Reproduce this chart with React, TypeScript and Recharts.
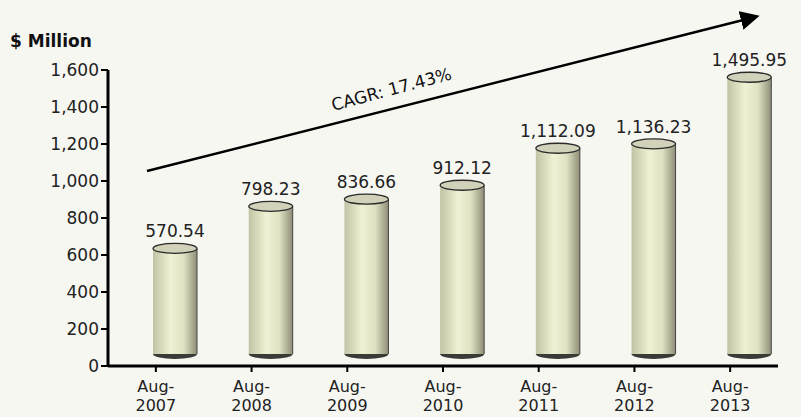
import { Bar, BarChart, LabelList, XAxis, YAxis } from "recharts";

const periods = ["Aug-2007", "Aug-2008", "Aug-2009", "Aug-2010", "Aug-2011", "Aug-2012", "Aug-2013"];
const revenue = [570.54, 798.23, 836.66, 912.12, 1112.09, 1136.23, 1495.95];
const yTicks = [0, 200, 400, 600, 800, 1000, 1200, 1400, 1600];

const data = periods.map((period, i) => ({ period, revenue: revenue[i] }));

const font = "'DejaVu Sans', Verdana, sans-serif";
// 3D look: the cylinders sit a little right and up from the category slot
const DX = 19;
const DY = -12;

const fmt = (v: number) =>
  v.toLocaleString("en-US", { minimumFractionDigits: 2, maximumFractionDigits: 2 });

const Cylinder = (props: any) => {
  const { x, y, width, height } = props;
  const left = x + DX;
  const top = y + DY;
  const bottom = y + height + DY;
  const cx = left + width / 2;
  const ry = 5;
  return (
    <g>
      <ellipse cx={cx} cy={bottom} rx={width / 2} ry={ry} fill="#3a3a36" />
      <rect x={left} y={top} width={width} height={bottom - top} fill="url(#cylBody)" />
      <line x1={left + width} y1={top} x2={left + width} y2={bottom} stroke="#444" strokeWidth={1} />
      <ellipse cx={cx} cy={top} rx={width / 2} ry={ry} fill="#d2d2ba" stroke="#2a2a2a" strokeWidth={1.3} />
    </g>
  );
};

const ValueLabel = (props: any) => {
  const { x, y, width, value } = props;
  return (
    <text
      x={x + width / 2 + DX}
      y={y + DY - 11}
      textAnchor="middle"
      fontFamily={font}
      fontSize={17}
      fill="#222"
    >
      {fmt(value)}
    </text>
  );
};

const PeriodTick = (props: any) => {
  const { x, y, payload } = props;
  const [mon, year] = String(payload.value).split("-");
  return (
    <text x={x} y={y} textAnchor="middle" fontFamily={font} fontSize={16} fill="#222">
      <tspan x={x} dy={18}>{mon}-</tspan>
      <tspan x={x} dy={19}>{year}</tspan>
    </text>
  );
};

export default function App() {
  return (
    <div style={{ position: "fixed", left: 0, top: 0, width: 801, height: 417, background: "#f7f7f2" }}>
      <BarChart width={801} height={417} data={data} margin={{ top: 70, right: 23, bottom: 0, left: 0 }}>
        <defs>
          <linearGradient id="cylBody" x1="0" y1="0" x2="1" y2="0">
            <stop offset="0%" stopColor="#c2c2a4" />
            <stop offset="40%" stopColor="#f0f0d4" />
            <stop offset="70%" stopColor="#e0e0c2" />
            <stop offset="100%" stopColor="#8e8e78" />
          </linearGradient>
        </defs>
        <XAxis
          dataKey="period"
          height={51}
          axisLine={{ stroke: "#000", strokeWidth: 3 }}
          tickLine={{ stroke: "#000", strokeWidth: 2 }}
          tickSize={6}
          tick={<PeriodTick />}
          interval={0}
        />
        <YAxis
          width={108}
          domain={[0, 1600]}
          ticks={yTicks}
          tickFormatter={(v: number) => v.toLocaleString("en-US")}
          axisLine={{ stroke: "#000", strokeWidth: 3 }}
          tickLine={{ stroke: "#000", strokeWidth: 2 }}
          tickSize={7}
          tick={{ fontFamily: font, fontSize: 17, fill: "#222" }}
        />
        <Bar dataKey="revenue" barSize={44} shape={<Cylinder />} isAnimationActive={false}>
          <LabelList dataKey="revenue" content={<ValueLabel />} />
        </Bar>
      </BarChart>
      <svg width={801} height={417} style={{ position: "absolute", left: 0, top: 0, pointerEvents: "none" }}>
        <defs>
          <marker id="arrowHead" markerWidth="8" markerHeight="8" refX="6" refY="4" orient="auto" markerUnits="strokeWidth">
            <path d="M0,0 L8,4 L0,8 z" fill="#000" />
          </marker>
        </defs>
        <text x={10} y={47} fontFamily={font} fontSize={17} fontWeight="bold" fill="#111">
          $ Million
        </text>
        <line x1={147} y1={171} x2={755} y2={17} stroke="#000" strokeWidth={2.4} markerEnd="url(#arrowHead)" />
        <text
          x={393}
          y={95}
          textAnchor="middle"
          fontFamily={font}
          fontSize={17}
          fill="#111"
          transform="rotate(-15 393 95)"
        >
          CAGR: 17.43%
        </text>
      </svg>
    </div>
  );
}
